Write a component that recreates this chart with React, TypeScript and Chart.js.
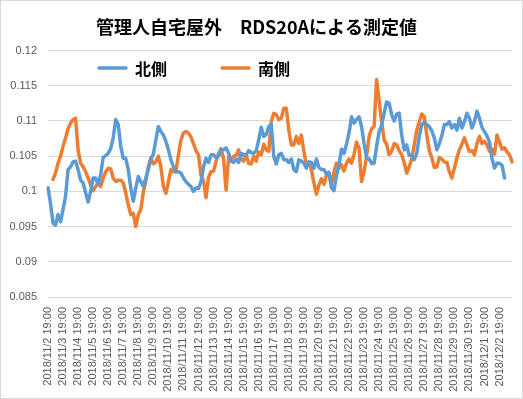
import React, { useEffect, useRef } from "react";
import { Chart, registerables } from "chart.js";

Chart.register(...registerables);

const TITLE = "管理人自宅屋外　RDS20Aによる測定値";
const SERIES_NAMES = ["北側", "南側"];
const COLORS = ["#5B9BD5", "#ED7D31"];

// Daily tick labels (one every 24 h)
const dayLabels = [
  "2018/11/2 19:00", "2018/11/3 19:00", "2018/11/4 19:00", "2018/11/5 19:00",
  "2018/11/6 19:00", "2018/11/7 19:00", "2018/11/8 19:00", "2018/11/9 19:00",
  "2018/11/10 19:00", "2018/11/11 19:00", "2018/11/12 19:00", "2018/11/13 19:00",
  "2018/11/14 19:00", "2018/11/15 19:00", "2018/11/16 19:00", "2018/11/17 19:00",
  "2018/11/18 19:00", "2018/11/19 19:00", "2018/11/20 19:00", "2018/11/21 19:00",
  "2018/11/22 19:00", "2018/11/23 19:00", "2018/11/24 19:00", "2018/11/25 19:00",
  "2018/11/26 19:00", "2018/11/27 19:00", "2018/11/28 19:00", "2018/11/29 19:00",
  "2018/11/30 19:00", "2018/12/1 19:00", "2018/12/2 19:00",
];
// readings every 4 hours -> 6 samples per day
const SAMPLES_PER_DAY = 6;
const SAMPLE_HOURS = ["19:00", "23:00", "3:00", "7:00", "11:00", "15:00"];

const north: (number | null)[] = [
  0.1005, 0.0983, 0.0955, 0.0952, 0.0967, 0.0957, 0.0974, 0.0993, 0.1031, 0.1035,
  0.1042, 0.1043, 0.1031, 0.1016, 0.1012, 0.0998, 0.0985, 0.1000, 0.1019, 0.1019,
  0.1010, 0.1024, 0.1048, 0.1051, 0.1054, 0.1061, 0.1076, 0.1102, 0.1095, 0.1064,
  0.1047, 0.1047, 0.1031, 0.1005, 0.0986, 0.1005, 0.1021, 0.1014, 0.1007, 0.1019,
  0.1031, 0.1046, 0.1053, 0.1073, 0.1092, 0.1085, 0.1080, 0.1071, 0.1059, 0.1045,
  0.1035, 0.1028, 0.1028, 0.1026, 0.1019, 0.1014, 0.1010, 0.1007, 0.1000, 0.1005,
  0.1004, 0.1014, 0.1035, 0.1047, 0.1041, 0.1052, 0.1052, 0.1048, 0.1050, 0.1059,
  0.1059, 0.1062, 0.1054, 0.1043, 0.1041, 0.1046, 0.1041, 0.1054, 0.1052, 0.1052,
  0.1058, 0.1055, 0.1054, 0.1058, 0.1073, 0.1091, 0.1078, 0.1081, 0.1092, 0.1095,
  0.1050, 0.1039, 0.1052, 0.1054, 0.1045, 0.1045, 0.1041, 0.1046, 0.1031, 0.1028,
  0.1045, 0.1043, 0.1040, 0.1033, 0.1042, 0.1041, 0.1033, 0.1046, 0.1034, 0.1031,
  0.1031, 0.1025, 0.1027, 0.1005, 0.1001, 0.1023, 0.1038, 0.1060, 0.1054, 0.1067,
  0.1083, 0.1106, 0.1097, 0.1102, 0.1106, 0.1092, 0.1068, 0.1048, 0.1046, 0.1040,
  0.1040, 0.1064, 0.1085, 0.1094, 0.1111, 0.1127, 0.1125, 0.1109, 0.1100, 0.1110,
  0.1111, 0.1080, 0.1059, 0.1066, 0.1051, 0.1052, 0.1045, 0.1054, 0.1078, 0.1095,
  0.1098, 0.1095, 0.1092, 0.1086, 0.1076, 0.1059, 0.1068, 0.1079, 0.1095, 0.1095,
  0.1099, 0.1090, 0.1095, 0.1087, 0.1104, 0.1090, 0.1099, 0.1111, 0.1104, 0.1090,
  0.1099, 0.1114, 0.1104, 0.1091, 0.1085, 0.1079, 0.1070, 0.1047, 0.1033, 0.1040,
  0.1040, 0.1037, 0.1019, null, null, null,
];

const south: (number | null)[] = [
  null, null, 0.1017, 0.1026, 0.1040, 0.1050, 0.1064, 0.1076, 0.1089, 0.1097,
  0.1102, 0.1104, 0.1059, 0.1040, 0.1035, 0.1028, 0.1019, 0.1009, 0.1001, 0.1007,
  0.1012, 0.1007, 0.1019, 0.1028, 0.1033, 0.1032, 0.1019, 0.1014, 0.1016, 0.1016,
  0.1012, 0.0998, 0.0981, 0.0967, 0.0969, 0.0950, 0.0967, 0.0974, 0.0999, 0.1015,
  0.1035, 0.1048, 0.1039, 0.1042, 0.1050, 0.1035, 0.1007, 0.0997, 0.1014, 0.1031,
  0.1028, 0.1028, 0.1052, 0.1073, 0.1083, 0.1085, 0.1083, 0.1077, 0.1068, 0.1058,
  0.1052, 0.1023, 0.1015, 0.0991, 0.1020, 0.1028, 0.1029, 0.1043, 0.1054, 0.1061,
  0.1046, 0.1002, 0.1048, 0.1045, 0.1050, 0.1051, 0.1059, 0.1046, 0.1043, 0.1052,
  0.1040, 0.1039, 0.1050, 0.1043, 0.1056, 0.1052, 0.1067, 0.1059, 0.1057, 0.1099,
  0.1111, 0.1109, 0.1102, 0.1104, 0.1118, 0.1118, 0.1087, 0.1066, 0.1066, 0.1078,
  0.1068, 0.1080, 0.1057, 0.1037, 0.1041, 0.1031, 0.1012, 0.0996, 0.1009, 0.1018,
  0.1010, 0.1023, 0.1026, 0.1010, 0.1028, 0.1040, 0.1033, 0.1038, 0.1029, 0.1040,
  0.1046, 0.1040, 0.1053, 0.1070, 0.1061, 0.1014, 0.1028, 0.1050, 0.1078, 0.1089,
  0.1092, 0.1159, 0.1128, 0.1099, 0.1073, 0.1067, 0.1052, 0.1057, 0.1068, 0.1066,
  0.1058, 0.1052, 0.1041, 0.1026, 0.1035, 0.1046, 0.1066, 0.1087, 0.1099, 0.1110,
  0.1106, 0.1080, 0.1058, 0.1048, 0.1034, 0.1035, 0.1048, 0.1046, 0.1042, 0.1041,
  0.1028, 0.1019, 0.1033, 0.1048, 0.1059, 0.1067, 0.1076, 0.1066, 0.1057, 0.1058,
  0.1052, 0.1068, 0.1078, 0.1068, 0.1071, 0.1066, 0.1057, 0.1060, 0.1053, 0.1080,
  0.1070, 0.1060, 0.1062, 0.1056, 0.1052, 0.1042,
];

const Y_MIN = 0.085;
const Y_MAX = 0.12;
const Y_STEP = 0.005;

// category labels: day label for first sample of each day, otherwise time of day
const categories = north.map((_, i) => {
  const d = Math.floor(i / SAMPLES_PER_DAY);
  const k = i % SAMPLES_PER_DAY;
  if (k === 0 && d < dayLabels.length) return dayLabels[d];
  return (dayLabels[Math.min(d, dayLabels.length - 1)] || "").split(" ")[0] + " " + SAMPLE_HOURS[k];
});

const bgPlugin = {
  id: "bgBorder",
  beforeDraw(chart: any) {
    const { ctx, width, height } = chart;
    ctx.save();
    ctx.fillStyle = "#ffffff";
    ctx.fillRect(0, 0, width, height);
    ctx.restore();
  },
  afterDraw(chart: any) {
    const { ctx, width, height } = chart;
    ctx.save();
    ctx.strokeStyle = "#d9d9d9";
    ctx.lineWidth = 1;
    ctx.strokeRect(0.5, 0.5, width - 1, height - 1);
    ctx.restore();
  },
};

const legendPlugin = {
  id: "insideLegend",
  afterDraw(chart: any) {
    const { ctx } = chart;
    const items = [
      { x: 99, color: COLORS[0], text: chart.data.datasets[0].label },
      { x: 222, color: COLORS[1], text: chart.data.datasets[1].label },
    ];
    const y = 68;
    ctx.save();
    items.forEach((it) => {
      ctx.strokeStyle = it.color;
      ctx.lineWidth = 3.5;
      ctx.lineCap = "round";
      ctx.beginPath();
      ctx.moveTo(it.x, y);
      ctx.lineTo(it.x + 27, y);
      ctx.stroke();
      ctx.fillStyle = "#000000";
      ctx.font = "bold 16px 'Noto Sans CJK JP'";
      ctx.textBaseline = "middle";
      ctx.textAlign = "left";
      ctx.fillText(it.text, it.x + 36, y + 1);
    });
    ctx.restore();
  },
};

export default function App() {
  const ref = useRef<HTMLCanvasElement | null>(null);

  useEffect(() => {
    if (!ref.current) return;
    const chart = new Chart(ref.current, {
      type: "line",
      data: {
        labels: categories,
        datasets: [
          {
            label: SERIES_NAMES[0],
            data: north,
            borderColor: COLORS[0],
            backgroundColor: COLORS[0],
            borderWidth: 3.5,
            pointRadius: 0,
            tension: 0,
            borderJoinStyle: "round",
            borderCapStyle: "round",
            spanGaps: false,
          },
          {
            label: SERIES_NAMES[1],
            data: south,
            borderColor: COLORS[1],
            backgroundColor: COLORS[1],
            borderWidth: 3.5,
            pointRadius: 0,
            tension: 0,
            borderJoinStyle: "round",
            borderCapStyle: "round",
            spanGaps: false,
          },
        ],
      },
      options: {
        responsive: false,
        animation: false,
        layout: { padding: { left: 0, right: 10, top: 0, bottom: 0 } },
        plugins: {
          legend: { display: false },
          tooltip: { enabled: false },
          title: {
            display: true,
            text: TITLE,
            color: "#000000",
            font: { family: "'Noto Sans CJK JP'", size: 18, weight: "bold" },
            padding: { top: 16, bottom: 13 },
          },
        },
        scales: {
          x: {
            type: "category",
            offset: false,
            grid: { display: false, drawTicks: false },
            border: { display: false },
            ticks: {
              autoSkip: false,
              maxRotation: 90,
              minRotation: 90,
              padding: 10,
              color: "#595959",
              font: { family: "'Liberation Sans'", size: 11 },
              callback: (_v: any, i: number) =>
                i % SAMPLES_PER_DAY === 0 && i / SAMPLES_PER_DAY < dayLabels.length
                  ? dayLabels[i / SAMPLES_PER_DAY]
                  : null,
            },
            afterFit: (scale: any) => {
              scale.height = 102;
            },
          },
          y: {
            min: Y_MIN,
            max: Y_MAX,
            grid: { color: "#d9d9d9", lineWidth: 1, drawTicks: false },
            border: { display: false },
            ticks: {
              stepSize: Y_STEP,
              padding: 11,
              color: "#595959",
              font: { family: "'Liberation Sans'", size: 11 },
              callback: (v: any) => String(Number(Number(v).toFixed(3))),
            },
            afterFit: (scale: any) => {
              scale.width = 48;
            },
          },
        },
      },
      plugins: [bgPlugin, legendPlugin],
    });
    return () => chart.destroy();
  }, []);

  return (
    <div style={{ position: "absolute", left: 0, top: 0, width: 523, height: 399 }}>
      <canvas ref={ref} width={523} height={399} style={{ display: "block" }} />
    </div>
  );
}
